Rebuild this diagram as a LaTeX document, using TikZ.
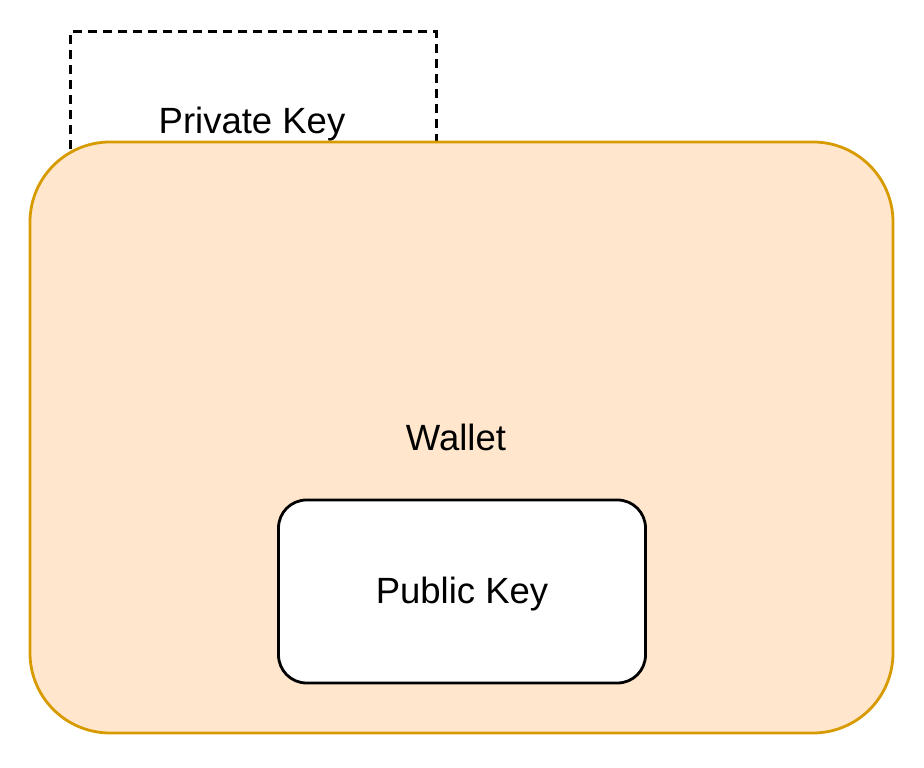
\documentclass[tikz,border=0pt]{standalone}
\usepackage{fontspec}
\setmainfont{Liberation Sans}
\definecolor{walletfill}{HTML}{FFE6CC}
\definecolor{walletdraw}{HTML}{D79B00}
\begin{document}
\begin{tikzpicture}[x=1pt,y=1pt,
  lbl/.style={font=\fontsize{36.5}{42}\selectfont, inner sep=0pt},
  privbox/.style={draw=black, line width=3pt, dash pattern=on 9pt off 6pt, minimum width=366pt, minimum height=180pt, inner sep=0pt},
  walletbox/.style={draw=walletdraw, fill=walletfill, line width=2.8pt, rounded corners=80pt, minimum width=863pt, minimum height=591pt, inner sep=0pt},
  pubbox/.style={draw=black, fill=white, line width=2.8pt, rounded corners=28pt, minimum width=367pt, minimum height=183pt, inner sep=0pt}]
\useasboundingbox (0,0) rectangle (924,768);
\node[privbox] (priv) at (253,646) {};
\node[lbl] (privlbl) at (252,644) {Private Key};
\node[walletbox] (wallet) at (461.5,330.5) {};
\node[lbl] (walletlbl) at (456,331) {Wallet};
\node[pubbox] (pub) at (462,176.5) {};
\node[lbl] (publbl) at (462,173.5) {Public Key};
\end{tikzpicture}
\end{document}
